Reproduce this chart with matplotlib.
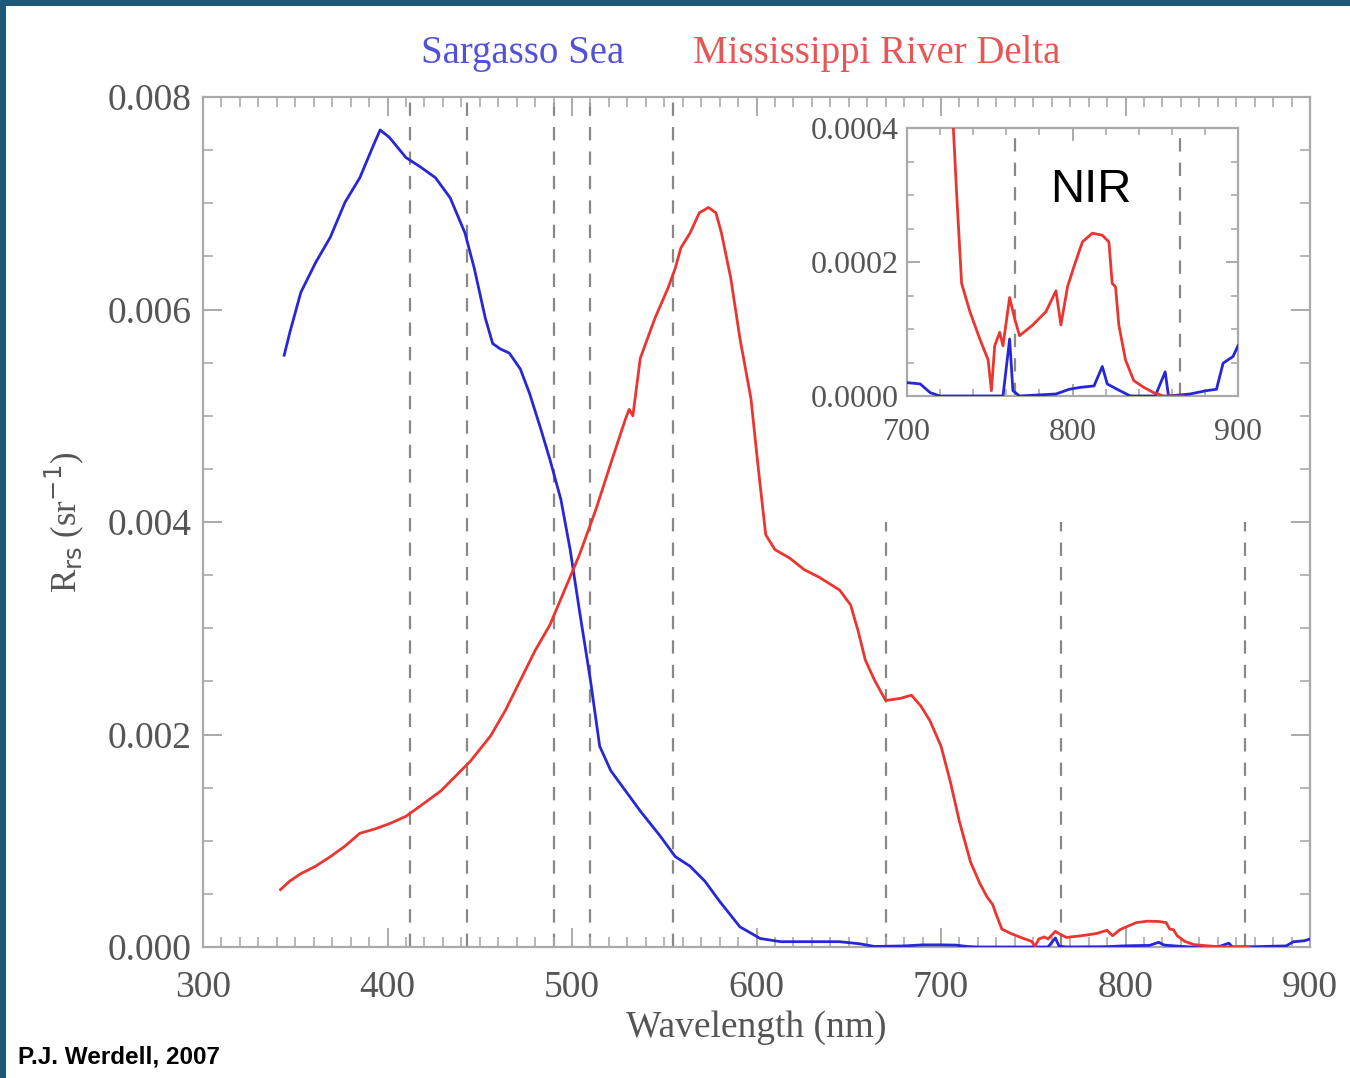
import matplotlib
matplotlib.use("Agg")
import matplotlib.pyplot as plt
from matplotlib.ticker import MultipleLocator, FormatStrFormatter
from matplotlib.patches import Rectangle

# Remote-sensing reflectance spectra
wl_sargasso = [344, 347, 353, 361, 369, 377, 385, 392, 396, 401, 410, 418, 426,
               434, 442, 447, 453, 457, 461, 466, 472, 477, 483, 488, 494, 499,
               504, 510, 515, 521, 529, 537, 548, 556, 564, 572, 580, 591, 602,
               613, 624, 645, 656, 664, 680, 690, 700, 708, 714, 720, 750, 758,
               762, 764, 768, 790, 798, 805, 813, 818, 821, 827, 835, 850, 856,
               858, 871, 881, 887, 891, 897, 900]
rrs_sargasso = [0.00557, 0.00578, 0.00616, 0.00644, 0.00668, 0.00701, 0.00724,
                0.00753, 0.00769, 0.00762, 0.00743, 0.00734, 0.00724, 0.00705,
                0.00672, 0.00639, 0.00592, 0.00568, 0.00563, 0.00559, 0.00544,
                0.00521, 0.00488, 0.00459, 0.00421, 0.00374, 0.00317, 0.00251,
                0.00189, 0.00166, 0.00147, 0.00128, 0.00104, 0.00085, 0.00076,
                0.00062, 0.00043, 0.00019, 0.00008, 0.00005, 0.00005, 0.00005,
                0.00003, 0.000005, 0.00001, 0.00002, 0.00002, 0.000018,
                0.000005, 0.0, 0.0, 0.0, 0.000085, 0.000008, 0.0, 0.000003,
                0.00001, 0.000013, 0.000015, 0.000044, 0.000018, 0.00001, 0.0,
                0.0, 0.000036, 0.0, 0.000003, 0.000008, 0.00001, 0.000049,
                0.000059, 0.000075]

wl_delta = [342, 347, 353, 361, 369, 377, 385, 393, 401, 410, 418, 429, 437, 445,
            456, 464, 472, 480, 488, 496, 504, 513, 521, 529, 531, 533, 537, 545,
            552, 556, 559, 564, 569, 574, 578, 581, 586, 591, 597, 601, 605, 610,
            618, 626, 634, 645, 651, 655, 659, 664, 670, 678, 684, 689, 694, 700,
            705, 710, 716, 721, 725, 728, 730, 733, 738, 744, 749, 751, 753, 756,
            758, 762, 765, 768, 776, 784, 790, 793, 797, 801, 806, 812, 818, 822,
            824, 826, 828, 832, 837, 843, 849, 855, 861, 867]
rrs_delta = [0.00054, 0.00062, 0.00069, 0.00076, 0.00085, 0.00095, 0.00107,
             0.00111, 0.00116, 0.00123, 0.00133, 0.00147, 0.00161, 0.00175,
             0.00199, 0.00223, 0.00251, 0.00279, 0.00303, 0.00336, 0.00369,
             0.00412, 0.00455, 0.00497, 0.00506, 0.00500, 0.00554, 0.00592,
             0.00620, 0.00639, 0.00658, 0.00672, 0.00691, 0.00696, 0.00691,
             0.00672, 0.00630, 0.00573, 0.00516, 0.00450, 0.00388, 0.00374,
             0.00366, 0.00355, 0.00348, 0.00336, 0.00322, 0.00298, 0.00270,
             0.00251, 0.00232, 0.00234, 0.00237, 0.00227, 0.00213, 0.00189,
             0.00156, 0.00118, 0.00080, 0.00060, 0.00047, 0.00040, 0.000302,
             0.000168, 0.000126, 0.000085, 0.000054, 0.000008, 0.000075,
             0.000095, 0.000075, 0.000147, 0.000116, 0.00009, 0.000106,
             0.000126, 0.000157, 0.000106, 0.000163, 0.000194, 0.00023,
             0.000243, 0.00024, 0.00023, 0.000168, 0.000163, 0.000106,
             0.000054, 0.000023, 0.000013, 0.000005, 0.0, 0.0, 0.0]

# SeaWiFS / MODIS band centres drawn as dashed lines
bands_full = [412, 443, 490, 510, 555]
bands_low = [670, 765, 865]
bands_inset = [765, 865]

blue = "#2727d8"
red = "#ea3530"
txt = "#555555"
serif = "Liberation Serif"

fig = plt.figure(figsize=(13.5, 10.78), dpi=100)
fig.patch.set_facecolor("white")

# frame of the slide (top and left only)
fig.add_artist(Rectangle((0, 1 - 6 / 1078), 1, 6 / 1078, transform=fig.transFigure,
                         facecolor="#1d5878", edgecolor="none"))
fig.add_artist(Rectangle((0, 0), 6 / 1350, 1, transform=fig.transFigure,
                         facecolor="#1d5878", edgecolor="none"))


def style_axes(ax, fs):
    for s in ax.spines.values():
        s.set_color("#aaaaaa")
        s.set_linewidth(1.6)
    ax.tick_params(which="both", direction="in", top=True, right=True,
                   color="#aaaaaa", labelcolor=txt, labelsize=fs)
    ax.tick_params(which="major", length=14, width=1.4)
    ax.tick_params(which="minor", length=7, width=1.2)
    for lab in ax.get_xticklabels() + ax.get_yticklabels():
        lab.set_fontfamily(serif)


# main panel
ax = fig.add_axes([203 / 1350, 1 - 947 / 1078, 1107 / 1350, 850 / 1078])
for b in bands_full:
    ax.axvline(b, color="#888888", lw=1.6, ls=(0, (6, 5)), zorder=1)
for b in bands_low:
    ax.axvline(b, ymax=0.5, color="#888888", lw=1.6, ls=(0, (6, 5)), zorder=1)
ax.plot(wl_sargasso, rrs_sargasso, color=blue, lw=2.0, zorder=3)
ax.plot(wl_delta, rrs_delta, color=red, lw=2.0, zorder=3)
ax.set_xlim(300, 900)
ax.set_ylim(0, 0.008)
ax.xaxis.set_major_locator(MultipleLocator(100))
ax.xaxis.set_minor_locator(MultipleLocator(10))
ax.yaxis.set_major_locator(MultipleLocator(0.002))
ax.yaxis.set_minor_locator(MultipleLocator(0.0005))
ax.yaxis.set_major_formatter(FormatStrFormatter("%.3f"))
style_axes(ax, 27)
ax.tick_params(axis="x", pad=17)
ax.tick_params(axis="y", pad=8)
ax.set_xlabel("Wavelength (nm)", fontsize=27, color=txt, family=serif, labelpad=4)
ax.set_ylabel(r"R$_{\rm rs}$ (sr$^{-1}$)", fontsize=25, color=txt, family=serif,
              labelpad=16)

# series names above the plot
fig.text(523 / 1350, 1 - 54 / 1078, "Sargasso Sea", color="#5252d8", fontsize=28,
         family=serif, ha="center", va="center")
fig.text(877 / 1350, 1 - 54 / 1078, "Mississippi River Delta", color="#e85555",
         fontsize=28, family=serif, ha="center", va="center")

# inset: near infrared
axi = fig.add_axes([907 / 1350, 1 - 396 / 1078, 331 / 1350, 268 / 1078])
axi.set_facecolor("white")
for b in bands_inset:
    axi.axvline(b, color="#888888", lw=1.6, ls=(0, (6, 5)), zorder=1)
axi.plot(wl_sargasso, rrs_sargasso, color=blue, lw=2.0, zorder=3)
axi.plot(wl_delta, rrs_delta, color=red, lw=2.0, zorder=3)
axi.set_xlim(700, 900)
axi.set_ylim(0, 0.0004)
axi.xaxis.set_major_locator(MultipleLocator(100))
axi.xaxis.set_minor_locator(MultipleLocator(20))
axi.yaxis.set_major_locator(MultipleLocator(0.0002))
axi.yaxis.set_minor_locator(MultipleLocator(0.00005))
axi.yaxis.set_major_formatter(FormatStrFormatter("%.4f"))
style_axes(axi, 23)
axi.tick_params(which="major", length=9)
axi.tick_params(which="minor", length=5)
axi.tick_params(axis="x", pad=16)
axi.tick_params(axis="y", pad=6)
axi.text(0.555, 0.77, "NIR", transform=axi.transAxes, fontsize=34,
         family="Liberation Sans", color="black", ha="center", va="center")

fig.text(18 / 1350, 1 - 1057 / 1078, "P.J. Werdell, 2007", fontsize=17.5,
         fontweight="bold", family="Liberation Sans", color="black",
         ha="left", va="center")

fig.savefig("out.png", dpi=100)
